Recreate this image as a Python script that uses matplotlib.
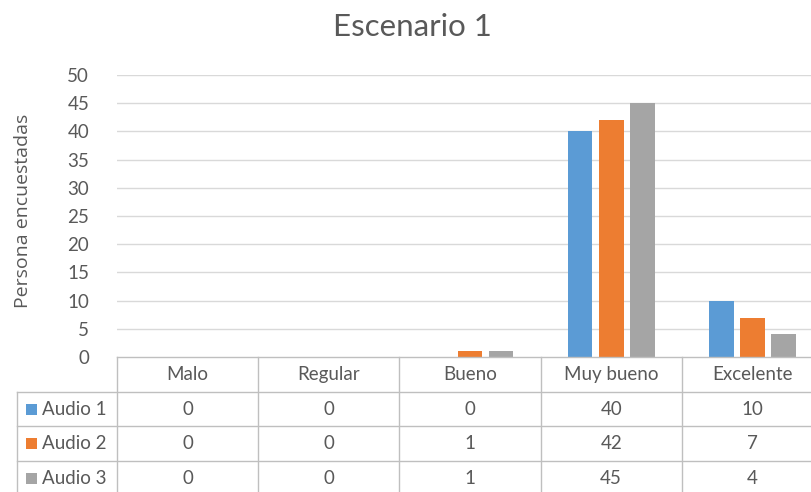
import matplotlib
matplotlib.use("Agg")
import matplotlib.pyplot as plt
from matplotlib.transforms import blended_transform_factory
from matplotlib.lines import Line2D
from matplotlib.patches import Rectangle

categories = ["Malo", "Regular", "Bueno", "Muy bueno", "Excelente"]
series_names = ["Audio 1", "Audio 2", "Audio 3"]
audio1 = [0, 0, 0, 40, 10]
audio2 = [0, 0, 1, 42, 7]
audio3 = [0, 0, 1, 45, 4]
series_values = [audio1, audio2, audio3]
colors = ["#5B9BD5", "#ED7D31", "#A5A5A5"]
yticks = [0, 5, 10, 15, 20, 25, 30, 35, 40, 45, 50]

W, H = 811, 492
plt.rcParams["font.family"] = ["Lato", "DejaVu Sans"]
text_col = "#595959"
line_col = "#D9D9D9"
fs = 13.5

fig = plt.figure(figsize=(W / 100, H / 100), dpi=100)
fig.patch.set_facecolor("white")


def fx(px):
    return px / W


def fy(py):
    return 1 - py / H


ax_left, ax_right, ax_top, ax_bottom = 117, 823, 75, 357
ax = fig.add_axes([fx(ax_left), fy(ax_bottom), fx(ax_right - ax_left), (ax_bottom - ax_top) / H])
ax.set_xlim(-0.5, len(categories) - 0.5)
ax.set_ylim(0, 50)

bar_w = 0.175
step = 0.22
for i, (vals, col) in enumerate(zip(series_values, colors)):
    xs = [c + (i - 1) * step for c in range(len(categories))]
    ax.bar(xs, vals, width=bar_w, color=col, zorder=3)

ax.set_yticks(yticks)
ax.set_yticklabels([str(t) for t in yticks], fontsize=fs, color=text_col)
ax.tick_params(axis="y", length=0, pad=20)
ax.set_xticks([])
for y in yticks[1:]:
    ax.axhline(y, color=line_col, lw=1, zorder=1)
for s in ax.spines.values():
    s.set_visible(False)

# vertical axis title
fig.text(fx(23), fy(211), "Persona encuestadas", rotation=90, ha="center", va="center",
         fontsize=14, color=text_col, family=["Open Sans", "DejaVu Sans"])

fig.text(fx(412), fy(27), "Escenario 1", ha="center", va="center",
         fontsize=22.5, color=text_col)

# data table below the plot
tr = blended_transform_factory(ax.transData, fig.transFigure)
row_lines = [357, 392, 426, 461, 496]
n = len(categories)
tbl_col = "#BFBFBF"

fig.add_artist(Line2D([-0.5, n - 0.5], [fy(357)] * 2, transform=tr, color=tbl_col, lw=1))
for py in row_lines[1:4]:
    fig.add_artist(Line2D([fx(17), 1.0], [fy(py)] * 2, transform=fig.transFigure,
                          color=tbl_col, lw=1))
for k in range(n + 1):
    fig.add_artist(Line2D([k - 0.5] * 2, [fy(357), fy(496)], transform=tr,
                          color=tbl_col, lw=1))
fig.add_artist(Line2D([fx(17)] * 2, [fy(392), fy(496)], transform=fig.transFigure,
                      color=tbl_col, lw=1))

for c, name in enumerate(categories):
    fig.text(c, fy((357 + 392) / 2), name, transform=tr, ha="center", va="center",
             fontsize=fs, color=text_col)

for r, (name, vals, col) in enumerate(zip(series_names, series_values, colors)):
    top = row_lines[r + 1]
    cy = fy(top + 17.5)
    fig.add_artist(Rectangle((fx(26), cy - 5.5 / H), 11 / W, 11 / H,
                             transform=fig.transFigure, color=col, lw=0))
    fig.text(fx(42), cy, name, ha="left", va="center", fontsize=fs, color=text_col)
    for c, v in enumerate(vals):
        fig.text(c, cy, str(v), transform=tr, ha="center", va="center",
                 fontsize=fs, color=text_col)

fig.savefig("out.png", dpi=100)
